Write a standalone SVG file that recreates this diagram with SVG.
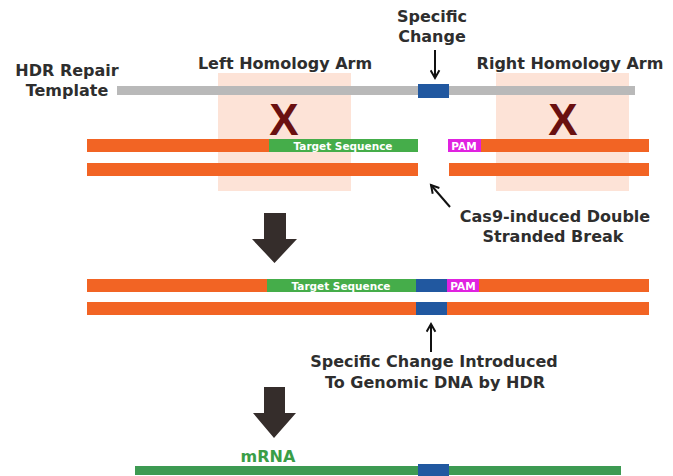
<svg xmlns="http://www.w3.org/2000/svg" width="673" height="476" viewBox="0 0 673 476">
<defs>
<style>
.lbl{font-family:"DejaVu Sans",Verdana,sans-serif;font-weight:bold;font-size:16px;fill:#2e2e2e;text-anchor:middle}
.small{font-family:"DejaVu Sans",Verdana,sans-serif;font-weight:bold;font-size:10.5px;fill:#ffffff;text-anchor:middle}
.x{font-family:"Liberation Sans",Arial,sans-serif;font-weight:bold;font-size:44px;fill:#6a1010;text-anchor:middle}
.arm{fill:#fde3d7}
.or{fill:#f26424}
.gr{fill:#45ad4a}
.bl{fill:#2158a0}
.pm{fill:#e022e0}
.thin{stroke:#111;stroke-width:2;fill:none}
.big{fill:#352d2b}
</style>
<marker id="ah" viewBox="0 0 10 10" refX="8" refY="5" markerWidth="5.5" markerHeight="5.5" orient="auto">
<path d="M1,1 L8,5 L1,9" fill="none" stroke="#111" stroke-width="1.8"/>
</marker>
</defs>
<rect width="673" height="476" fill="#ffffff"/>

<g id="left-arm"><rect class="arm" x="218" y="73" width="133" height="118"/><text class="lbl" x="285" y="69">Left Homology Arm</text><text class="x" x="284" y="135">X</text></g>
<g id="right-arm"><rect class="arm" x="496" y="73" width="133" height="118"/><text class="lbl" x="570" y="69">Right Homology Arm</text><text class="x" x="563" y="135">X</text></g>

<g id="template">
<text class="lbl" x="67" y="76">HDR Repair</text>
<text class="lbl" x="67" y="96">Template</text>
<rect x="117" y="86" width="518" height="9" fill="#b9b9b9"/>
<rect class="bl" x="418" y="84" width="31" height="14"/>
</g>

<g id="specific-change"><text class="lbl" x="432" y="22">Specific</text><text class="lbl" x="432" y="42">Change</text></g>

<g id="cut-dna">
<rect class="or" x="87" y="139" width="182" height="13"/>
<rect class="gr" x="269" y="139" width="149" height="13"/>
<text class="small" x="343" y="149.5">Target Sequence</text>
<rect class="pm" x="448" y="139" width="33" height="13"/>
<text class="small" x="464" y="149.5">PAM</text>
<rect class="or" x="481" y="139" width="168" height="13"/>
<rect class="or" x="87" y="163" width="331" height="13"/>
<rect class="or" x="449" y="163" width="200" height="13"/>
</g>

<g id="cas9-label"><text class="lbl" x="555" y="222">Cas9-induced Double</text><text class="lbl" x="553" y="242">Stranded Break</text></g>

<g id="edited-dna">
<rect class="or" x="87" y="279" width="180" height="13"/>
<rect class="gr" x="267" y="279" width="149" height="13"/>
<text class="small" x="341" y="289.5">Target Sequence</text>
<rect class="bl" x="416" y="279" width="31" height="13"/>
<rect class="pm" x="447" y="279" width="32" height="13"/>
<text class="small" x="463" y="289.5">PAM</text>
<rect class="or" x="479" y="279" width="170" height="13"/>
<rect class="or" x="87" y="302" width="329" height="13"/>
<rect class="bl" x="416" y="302" width="31" height="13"/>
<rect class="or" x="447" y="302" width="202" height="13"/>
</g>

<g id="hdr-label"><text class="lbl" x="434" y="367">Specific Change Introduced</text><text class="lbl" x="435" y="388">To Genomic DNA by HDR</text></g>

<g id="mrna">
<text x="268" y="462" font-family="DejaVu Sans,Verdana,sans-serif" font-weight="bold" font-size="16" fill="#3a9e47" text-anchor="middle">mRNA</text>
<rect x="135" y="466" width="486" height="9" fill="#3d9a52"/>
<rect class="bl" x="418" y="464" width="31" height="12"/>
</g>

<g id="connectors">
<line class="thin" x1="435" y1="50" x2="435" y2="78" marker-end="url(#ah)"/>
<line class="thin" x1="450" y1="207" x2="431" y2="185" marker-end="url(#ah)"/>
<line class="thin" x1="431" y1="352" x2="431" y2="324" marker-end="url(#ah)"/>
<polygon class="big" points="264,213 286,213 286,239 297,239 274.5,263 252,239 264,239"/>
<polygon class="big" points="264,387 285,387 285,413 296,413 274,438 253,413 264,413"/>
</g>
</svg>
